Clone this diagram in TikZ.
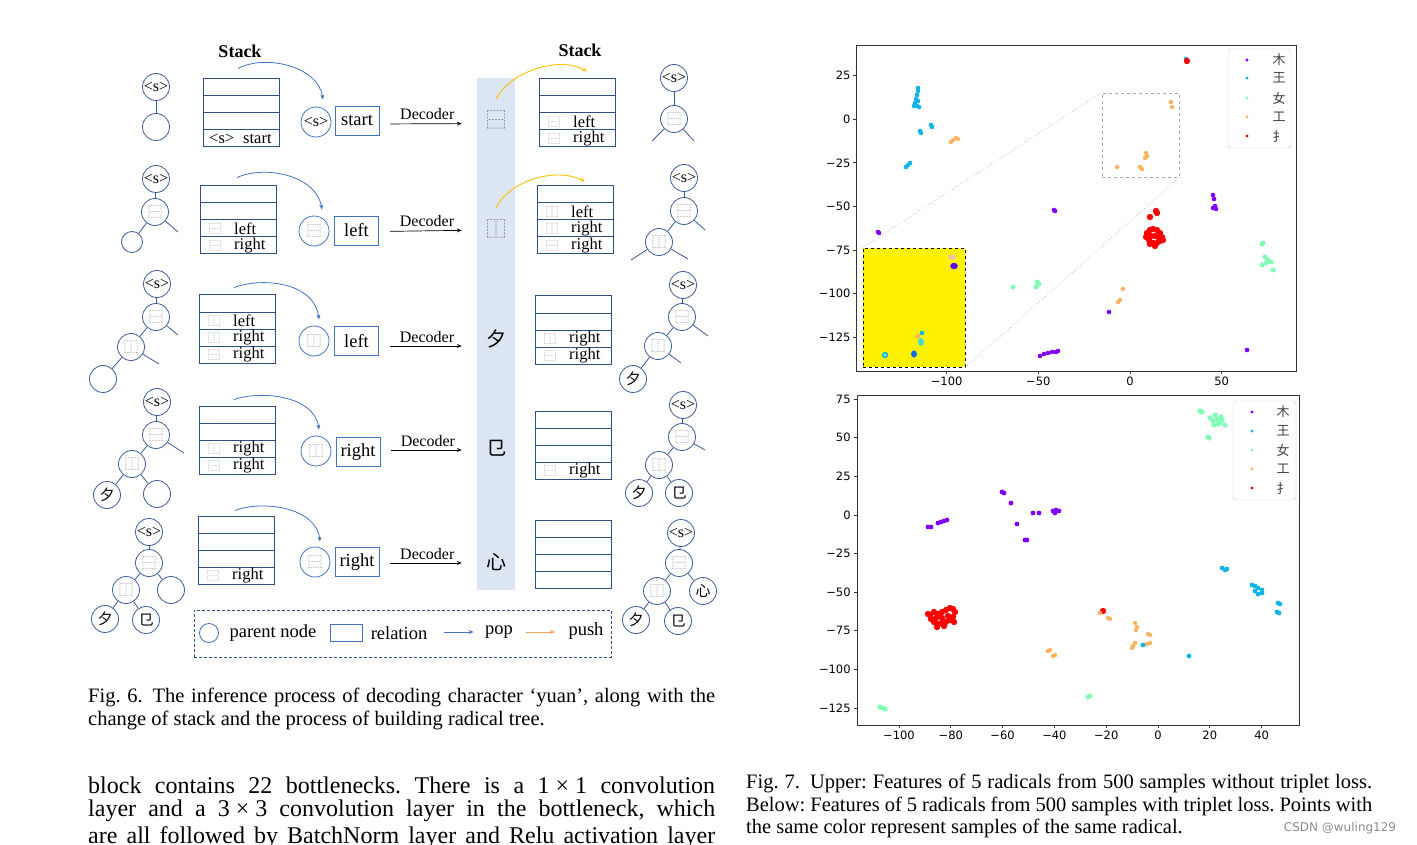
\documentclass[tikz,border=0pt]{standalone}
\usepackage{fontspec}
\setmainfont{Liberation Serif}
\newfontfamily\cjk{Noto Sans CJK SC}
\newfontfamily\plotfont{DejaVu Sans}
\usetikzlibrary{arrows.meta}
\usetikzlibrary{calc}
\definecolor{treeblue}{HTML}{3B5A9A}
\definecolor{stackblue}{HTML}{2F4E8C}
\definecolor{popblue}{HTML}{4472C4}
\definecolor{pushyellow}{HTML}{FFC000}
\definecolor{pushorange}{HTML}{F4A259}
\definecolor{colblue}{HTML}{DCE6F2}
\definecolor{cmu}{HTML}{7F00FF}
\definecolor{cwang}{HTML}{12B4E8}
\definecolor{cnv}{HTML}{80FFB4}
\definecolor{cgong}{HTML}{FFB360}
\definecolor{ccai}{HTML}{FF0000}
\frenchspacing

\begin{document}
\begin{tikzpicture}[x=1pt,y=-1pt,>/.tip={Stealth[length=5pt,width=4pt]},
  tnode/.style={circle,draw=treeblue,line width=0.8pt,minimum size=27pt,inner sep=0pt,font=\fontsize{16}{16}\selectfont},
  leaf/.style={tnode,minimum size=21pt},
  ico/.style={font=\cjk\fontsize{14}{14}\selectfont,text=black!55},
  rad/.style={font=\cjk\fontsize{15}{15}\selectfont},
  tedge/.style={draw=treeblue,line width=0.8pt},
  stk/.style={draw=stackblue,line width=1pt,minimum width=76pt,minimum height=68pt,inner sep=0pt,
    path picture={\foreach \r in {1,2,3}
      \draw[stackblue,line width=1pt] ([yshift={-17*\r}]path picture bounding box.north west) -- ([yshift={-17*\r}]path picture bounding box.north east);}},
  rowtext/.style={anchor=west,inner sep=0pt,font=\fontsize{16.5}{16.5}\selectfont},
  rowico/.style={inner sep=0pt,font=\cjk\fontsize{12}{12}\selectfont,text=black!50},
  rel/.style={draw=popblue,line width=0.9pt,minimum width=44pt,minimum height=29pt,inner sep=0pt,font=\fontsize{18.5}{18.5}\selectfont},
  popped/.style={tnode,draw=popblue,minimum size=30pt},
  popline/.style={draw=popblue,line width=0.8pt,->},
  pushline/.style={draw=pushyellow,line width=0.9pt,->},
  dec/.style={->,line width=0.7pt,shorten <=11pt,shorten >=24pt},
  declabel/.style={above,pos=0.45,font=\fontsize{16}{16}\selectfont},
  colchar/.style={inner sep=0pt,font=\cjk\fontsize{20}{20}\selectfont},
  captext/.style={anchor=west,inner sep=0pt,font=\fontsize{20.5}{23}\selectfont},
  bodytext/.style={anchor=west,inner sep=0pt,font=\fontsize{24}{26}\selectfont},
  axis/.style={draw=black!80,line width=0.9pt},
  tick/.style={font=\plotfont\fontsize{11.5}{11.5}\selectfont,inner sep=2.5pt},
  legbox/.style={draw=black!20,fill=white,rounded corners=3pt,minimum width=63pt,minimum height=99pt},
  lchar/.style={font=\cjk\fontsize{13}{13}\selectfont,text=black!75}]
\useasboundingbox (0,0) rectangle (1417,845);

\node[font=\bfseries\fontsize{18}{18}\selectfont] (st1) at (240,51) {Stack};
\node[font=\bfseries\fontsize{18}{18}\selectfont] (st2) at (580,50) {Stack};
\node[fill=colblue,minimum width=38pt,minimum height=512pt,inner sep=0pt] (col) at (496,334) {};

% row 1
\node[tnode] (a1s) at (156,87) {<s>};
\node[tnode] (a1n) at (156,127) {};
\draw[tedge] (a1s) -- (a1n);
\node[stk] (k1) at (241,113) {};
\node[rowtext] at (209,139) {<s>\hspace{9pt}start};
\node[popped] (p1) at (316,122) {<s>};
\node[rel] (r1) at (357,120.5) {start};
\draw[popline] ([xshift=-3pt,yshift=10pt]k1.north) .. controls (265,54) and (318,66) .. ([xshift=7pt,yshift=7pt]p1.north);
\node[colchar,text=black!60] (c1) at (496,120) {⿱};
\draw[dec] ([yshift=-3.5pt]r1.east) -- node[declabel] {Decoder} ([yshift=-3.5pt]c1.west);
\node[stk] (k6) at (577,113) {};
\node[rowico] at (554,121.5) {⿱}; \node[rowtext] at (573,121.5) {left};
\node[rowico] at (554,138.5) {⿱}; \node[rowtext] at (573,138.5) {right};
\draw[pushline] ([yshift=12pt]c1.north) .. controls (512,70) and (560,56) .. ([xshift=10pt,yshift=7pt]k6.north);
\node[tnode] (b1s) at (674,78) {<s>};
\node[tnode,ico] (b1a) at (674,119) {⿱};
\coordinate (b1l) at (652,141);
\coordinate (b1r) at (694,141);
\draw[tedge] (b1s) -- (b1a);
\draw[tedge] (b1a) -- (b1l);
\draw[tedge] (b1a) -- (b1r);

% row 2
\node[tnode] (a2s) at (156,179) {<s>};
\node[tnode,ico] (a2a) at (155,212) {⿱};
\node[leaf] (a2l) at (132,242) {};
\coordinate (a2r) at (178,232);
\draw[tedge] (a2s) -- (a2a);
\draw[tedge] (a2a) -- (a2l);
\draw[tedge] (a2a) -- (a2r);
\node[stk] (k2) at (238,220) {};
\node[rowico] at (215,228.5) {⿱}; \node[rowtext] at (234,228.5) {left};
\node[rowico] at (215,245.5) {⿱}; \node[rowtext] at (234,245.5) {right};
\node[popped,ico] (p2) at (314,231) {⿱};
\node[rel] (r2) at (356.5,230.5) {left};
\draw[popline] ([xshift=-1pt,yshift=8pt]k2.north) .. controls (265,165) and (316,175) .. ([xshift=8pt,yshift=6pt]p2.north);
\node[colchar,text=black!60] (c2) at (496,229) {⿰};
\draw[dec] ([yshift=-1pt]r2.east) -- node[declabel] {Decoder} ([yshift=-1pt]c2.west);
\node[stk] (k7) at (575,220) {};
\node[rowico] at (552,211.5) {⿰}; \node[rowtext] at (571,211.5) {left};
\node[rowico] at (552,228.5) {⿰}; \node[rowtext] at (571,228.5) {right};
\node[rowico] at (552,245.5) {⿱}; \node[rowtext] at (571,245.5) {right};
\draw[pushline] ([yshift=12pt]c2.north) .. controls (510,180) and (556,167) .. ([xshift=10pt,yshift=4pt]k7.north);
\node[tnode] (b2s) at (684,178) {<s>};
\node[tnode,ico] (b2a) at (684,211) {⿱};
\node[tnode,ico] (b2b) at (659,242) {⿰};
\coordinate (b2r) at (705,230);
\coordinate (b2bl) at (631,260);
\coordinate (b2br) at (688,259);
\draw[tedge] (b2s) -- (b2a);
\draw[tedge] (b2a) -- (b2b);
\draw[tedge] (b2a) -- (b2r);
\draw[tedge] (b2b) -- (b2bl);
\draw[tedge] (b2b) -- (b2br);

% row 3
\node[tnode] (a3s) at (157,284) {<s>};
\node[tnode,ico] (a3a) at (156,317) {⿱};
\node[tnode,ico] (a3b) at (131,347) {⿰};
\node[tnode] (a3l) at (103,379) {};
\coordinate (a3r) at (178,335);
\coordinate (a3br) at (159,364);
\draw[tedge] (a3s) -- (a3a);
\draw[tedge] (a3a) -- (a3b);
\draw[tedge] (a3a) -- (a3r);
\draw[tedge] (a3b) -- (a3l);
\draw[tedge] (a3b) -- (a3br);
\node[stk] (k3) at (237,329) {};
\node[rowico] at (214,320.5) {⿰}; \node[rowtext] at (233,320.5) {left};
\node[rowico] at (214,337.5) {⿰}; \node[rowtext] at (233,337.5) {right};
\node[rowico] at (214,354.5) {⿱}; \node[rowtext] at (233,354.5) {right};
\node[popped,ico] (p3) at (314,341) {⿰};
\node[rel] (r3) at (356.5,341) {left};
\draw[popline] ([xshift=-3pt,yshift=7pt]k3.north) .. controls (262,277) and (314,282) .. ([xshift=5pt,yshift=6pt]p3.north);
\node[colchar] (c3) at (496,339) {夕};
\draw[dec] ([yshift=-5pt]r3.east) -- node[declabel] {Decoder} ([yshift=-7pt]c3.west);
\node[stk] (k8) at (573,330) {};
\node[rowico] at (550,338.5) {⿰}; \node[rowtext] at (569,338.5) {right};
\node[rowico] at (550,355.5) {⿱}; \node[rowtext] at (569,355.5) {right};
\node[tnode] (b3s) at (683,285) {<s>};
\node[tnode,ico] (b3a) at (682,317) {⿱};
\node[tnode,ico] (b3b) at (658,346) {⿰};
\node[tnode,rad] (b3c) at (633,379) {夕};
\coordinate (b3r) at (708,336);
\coordinate (b3br) at (681,363);
\draw[tedge] (b3s) -- (b3a);
\draw[tedge] (b3a) -- (b3b);
\draw[tedge] (b3a) -- (b3r);
\draw[tedge] (b3b) -- (b3c);
\draw[tedge] (b3b) -- (b3br);

% row 4
\node[tnode] (a4s) at (157,402) {<s>};
\node[tnode,ico] (a4a) at (156,435) {⿱};
\node[tnode,ico] (a4b) at (132,464) {⿰};
\node[tnode,rad] (a4c) at (107,495) {夕};
\node[tnode] (a4d) at (157,494) {};
\coordinate (a4r) at (184,453);
\draw[tedge] (a4s) -- (a4a);
\draw[tedge] (a4a) -- (a4b);
\draw[tedge] (a4a) -- (a4r);
\draw[tedge] (a4b) -- (a4c);
\draw[tedge] (a4b) -- (a4d);
\node[stk] (k4) at (237,440) {};
\node[rowico] at (214,448.5) {⿰}; \node[rowtext] at (233,448.5) {right};
\node[rowico] at (214,465.5) {⿱}; \node[rowtext] at (233,465.5) {right};
\node[popped,ico] (p4) at (316,451) {⿰};
\node[rel] (r4) at (358,452) {right};
\draw[popline] ([xshift=-3pt,yshift=6pt]k4.north) .. controls (262,390) and (314,396) .. ([xshift=3pt,yshift=6pt]p4.north);
\node[colchar] (c4) at (496,448) {㔾};
\draw[dec] ([yshift=2pt]r4.east) -- node[declabel] {Decoder} ([yshift=-2pt]c4.west);
\node[stk] (k9) at (573,445) {};
\node[rowico] at (550,470.5) {⿱}; \node[rowtext] at (569,470.5) {right};
\node[tnode] (b4s) at (683,405) {<s>};
\node[tnode,ico] (b4a) at (682,437) {⿱};
\node[tnode,ico] (b4b) at (659,465) {⿰};
\node[tnode,rad] (b4c) at (639,493) {夕};
\node[tnode,rad] (b4d) at (679,493) {㔾};
\coordinate (b4r) at (705,450);
\draw[tedge] (b4s) -- (b4a);
\draw[tedge] (b4a) -- (b4b);
\draw[tedge] (b4a) -- (b4r);
\draw[tedge] (b4b) -- (b4c);
\draw[tedge] (b4b) -- (b4d);

% row 5
\node[tnode] (a5s) at (149,532) {<s>};
\node[tnode,ico] (a5a) at (149,563) {⿱};
\node[tnode,ico] (a5b) at (126,590) {⿰};
\node[tnode,rad] (a5c) at (105,619) {夕};
\node[tnode,rad] (a5d) at (146,620) {㔾};
\node[tnode] (a5e) at (171,590) {};
\draw[tedge] (a5s) -- (a5a);
\draw[tedge] (a5a) -- (a5b);
\draw[tedge] (a5a) -- (a5e);
\draw[tedge] (a5b) -- (a5c);
\draw[tedge] (a5b) -- (a5d);
\node[stk] (k5) at (236,550) {};
\node[rowico] at (213,575.5) {⿱}; \node[rowtext] at (232,575.5) {right};
\node[popped,ico] (p5) at (315,562) {⿱};
\node[rel] (r5) at (357,562) {right};
\draw[popline] ([xshift=-1pt,yshift=5pt]k5.north) .. controls (262,500) and (316,507) .. ([xshift=5pt,yshift=5pt]p5.north);
\node[colchar] (c5) at (496,562) {心};
\draw[dec] ([yshift=-1pt]r5.east) -- node[declabel] {Decoder} ([yshift=-1pt]c5.west);
\node[stk] (k10) at (573,554) {};
\node[tnode] (b5s) at (681,533) {<s>};
\node[tnode,ico] (b5a) at (679,563) {⿱};
\node[tnode,ico] (b5b) at (657,591) {⿰};
\node[tnode,rad] (b5e) at (703,591) {心};
\node[tnode,rad] (b5c) at (636,620) {夕};
\node[tnode,rad] (b5d) at (678,621) {㔾};
\draw[tedge] (b5s) -- (b5a);
\draw[tedge] (b5a) -- (b5b);
\draw[tedge] (b5a) -- (b5e);
\draw[tedge] (b5b) -- (b5c);
\draw[tedge] (b5b) -- (b5d);

% legend
\node[draw=stackblue,dash pattern=on 3pt off 2pt,line width=0.8pt,minimum width=417pt,minimum height=47pt] (leg) at (402.5,633.5) {};
\node[tnode,draw=popblue,minimum size=19pt] (lcirc) at (209,633) {};
\node[font=\fontsize{18.5}{18.5}\selectfont] (lpar) at (273,633) {parent node};
\node[rel,minimum width=32pt,minimum height=17pt] (lrel) at (346,633) {};
\node[font=\fontsize{18.5}{18.5}\selectfont] (lrelt) at (399,633) {relation};
\node[font=\fontsize{18.5}{18.5}\selectfont] (lpop) at (499,632) {pop};
\node[font=\fontsize{18.5}{18.5}\selectfont] (lpush) at (586,631) {push};
\draw[popline,shorten <=13pt,shorten >=8pt] ([yshift=1pt]lrelt.east) -- ([yshift=0pt]lpop.west);
\draw[->,draw=pushorange,line width=0.8pt,shorten <=10pt,shorten >=10pt] (lpop.east) -- ([yshift=-1pt]lpush.west);

% captions and text
\node[captext] (cap6a) at (88,697) {\makebox[627pt][s]{Fig. 6.\hspace{10pt}The inference process of decoding character ‘yuan’, along with the}};
\node[captext] (cap6b) at (88,720) {change of stack and the process of building radical tree.};
\node[bodytext] (body1) at (88,785) {\makebox[627pt][s]{block contains 22 bottlenecks. There is a \mbox{1 × 1} convolution}};
\node[bodytext] (body2) at (88,811) {\makebox[627pt][s]{layer and a \mbox{3 × 3} convolution layer in the bottleneck, which}};
\node[bodytext] (body3) at (88,838) {\makebox[627pt][s]{are all followed by BatchNorm layer and Relu activation layer}};
\node[captext] (cap7a) at (746,783) {\makebox[626pt][s]{Fig. 7.\hspace{10pt}Upper: Features of 5 radicals from 500 samples without triplet loss.}};
\node[captext] (cap7b) at (746,806) {\makebox[626pt][s]{Below: Features of 5 radicals from 500 samples with triplet loss. Points with}};
\node[captext] (cap7c) at (746,828) {the same color represent samples of the same radical.};
\node[font=\plotfont\fontsize{12}{12}\selectfont,text=black!45] (wm) at (1340,828) {CSDN @wuling129};

% upper plot
\begin{scope}[shift={(1130,119.3)},x=1.834pt,y=1.744pt]
  \draw[axis] (-148.9,-144.3) rectangle (90.5,42.6);
  \foreach \v/\t in {-100/−100,-50/−50,0/0,50/50}
    \draw[axis] (\v,-144.3) -- ++(0pt,-3.5pt) node[below,tick] {\t};
  \foreach \v/\t in {25/25,0/0,-25/−25,-50/−50,-75/−75,-100/−100,-125/−125}
    \draw[axis] (-148.9,\v) -- ++(-3.5pt,0pt) node[left,tick] {\t};
\end{scope}
\node[fill=yellow,draw=black,dashed,line width=0.8pt,minimum width=102pt,minimum height=119pt,inner sep=0pt] (ins) at (914,307.5) {};
\node[draw=gray!70,dashed,line width=0.9pt,minimum width=77pt,minimum height=84pt,inner sep=0pt] (zb) at (1140.5,135) {};
\draw[popblue!60,dotted,line width=0.6pt] (ins.north west) -- (zb.north west);
\draw[popblue!60,dotted,line width=0.6pt] (ins.south east) -- (zb.south east);
\foreach \x/\y in {918/88,918/91,917/95,916/99,918/101,915/103,917/106,919/107,914/106,921/133,920/131,932/127,931/125,908/165,906/167,910/163,1186/59,922/333}
  \fill[cwang] (\x,\y) circle (2.3pt);
\foreach \x/\y in {953/140,956/138,958/139,951/142,1171/102,1172/107,1146/153,1145/158,1147/156,1117/167,1140/167,1142/169,1123/289,1118/302,1120/300}
  \fill[cgong] (\x,\y) circle (2.2pt);
\foreach \x/\y in {878/232,879/233,1054/210,1055/211,1213/195,1214/199,1215/206,1216/209,1213/208,1109/312,1247/350,1040/356,1044/354,1048/353,1052/352,1056/352,1058/351}
  \fill[cmu] (\x,\y) circle (2.3pt);
\foreach \x/\y in {1187/61,1150/217,1156/211,1157/213,1147/233,1150/230,1153/229,1157/230,1160/233,1162/237,1160/241,1157/243,1153/243,1149/240,1151/236,1155/236,1158/237,1146/237,1163/240,1155/246,1150/244}
  \fill[ccai] (\x,\y) circle (3.2pt);
\foreach \x/\y in {1263/243,1262/244,1265/257,1268/260,1271/262,1266/263,1262/265,1273/270,1013/287,1037/282,1036/287,1039/284}
  \fill[cnv] (\x,\y) circle (2.5pt);
\fill[gray!45!orange!45] (952,257) ellipse (3.5pt and 3pt);
\fill[cmu!70!blue] (954,266) ellipse (3.8pt and 3.2pt);
\fill[cnv!50!cwang] (921,342) ellipse (3pt and 4pt);
\fill[cgong] (918,336) circle (2.5pt);
\fill[cwang] (885,355) circle (3.2pt);
\fill[cnv] (885,355) circle (1.6pt);
\fill[cwang!60!blue] (914,354) ellipse (3pt and 3.5pt);
\node[legbox] (lg1) at (1259.5,98.5) {};
\foreach \y/\c/\t in {60/cmu/木,78/cwang/王,98/cnv/女,117/cgong/工,136/ccai/扌} {
  \fill[\c] (1247,\y) circle (1.6pt);
  \node[lchar] at (1279,\y) {\t};
}

% lower plot
\begin{scope}[shift={(1158,515)},x=2.59pt,y=1.544pt]
  \draw[axis] (-116.2,-136) rectangle (54.8,77.7);
  \foreach \v/\t in {-100/−100,-80/−80,-60/−60,-40/−40,-20/−20,0/0,20/20,40/40}
    \draw[axis] (\v,-136) -- ++(0pt,-3.5pt) node[below,tick] {\t};
  \foreach \v/\t in {75/75,50/50,25/25,0/0,-25/−25,-50/−50,-75/−75,-100/−100,-125/−125}
    \draw[axis] (-116.2,\v) -- ++(-3.5pt,0pt) node[left,tick] {\t};
\end{scope}
\foreach \x/\y in {1200/411,1202/412,1210/418,1213/421,1217/419,1220/423,1215/415,1222/420,1225/425,1218/424,1214/425,1221/417,1208/437,1209/438,880/707,885/709,883/708,1088/697,1090/696}
  \fill[cnv] (\x,\y) circle (2.6pt);
\foreach \x/\y in {928/527,931/527,938/523,941/522,944/521,947/520,1002/492,1004/493,1011/503,1017/524,1025/540,1027/540,1033/513,1039/513,1053/511,1056/510,1059/511,1055/513}
  \fill[cmu] (\x,\y) circle (2.4pt);
\foreach \x/\y in {930/615,934/612,938/614,942/612,946/610,950/608,953/609,955/612,953/617,950/620,946/622,942/623,938/624,934/622,931/619,936/618,942/618,948/616,944/626,937/627,954/622,928/614,1103/611}
  \fill[ccai] (\x,\y) circle (3.2pt);
\foreach \x/\y in {1100/613,1108/618,1110/619,1048/651,1050/650,1053/656,1055/655,1135/623,1137/627,1136/630,1148/634,1150/635,1133/646,1135/643,1132/648,1147/644,1150/643}
  \fill[cgong] (\x,\y) circle (2.2pt);
\foreach \x/\y in {1222/568,1225/570,1227/569,1252/585,1255/586,1258/588,1262/590,1255/591,1258/594,1262/593,1278/603,1280/604,1277/612,1279/613,1189/656,1143/645}
  \fill[cwang] (\x,\y) circle (2.4pt);
\node[legbox] (lg2) at (1264.5,450.5) {};
\foreach \y/\c/\t in {412/cmu/木,431/cwang/王,450/cnv/女,469/cgong/工,488/ccai/扌} {
  \fill[\c] (1252,\y) circle (1.6pt);
  \node[lchar] at (1283,\y) {\t};
}
\end{tikzpicture}
\end{document}
